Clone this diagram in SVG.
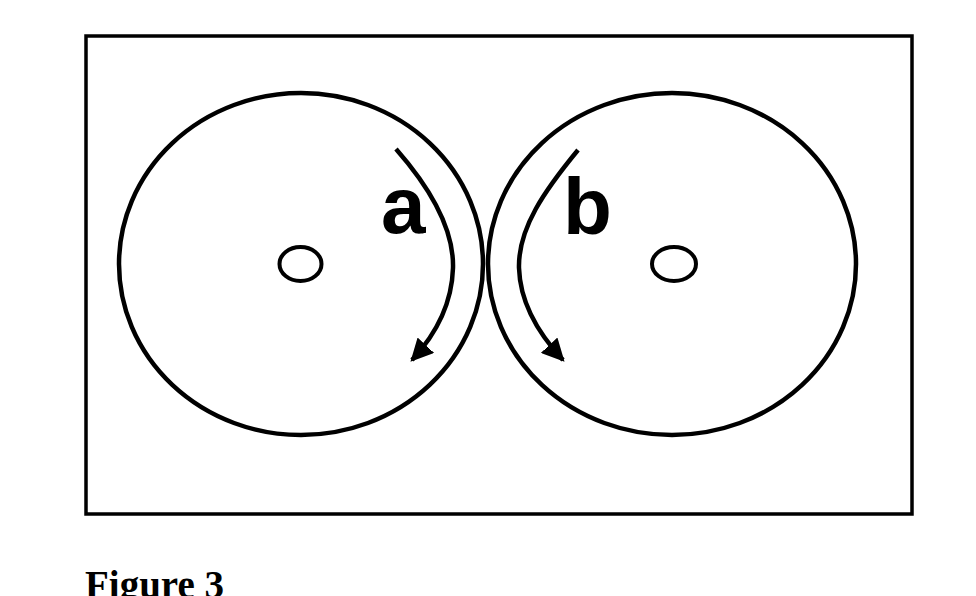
<svg xmlns="http://www.w3.org/2000/svg" width="976" height="596" viewBox="0 0 976 596">
  <style>
    .line { fill: none; stroke: #000; }
    .big { stroke-width: 4.5; }
    .arr { stroke-width: 4.5; }
    .hub { stroke-width: 4; }
    .label { font-family: "Liberation Sans", Arial, sans-serif; font-weight: bold; font-size: 80px; fill: #000; }
    .caption { font-family: "Liberation Serif", "Times New Roman", serif; font-weight: bold; font-size: 39px; fill: #000; }
  </style>
  <defs>
    <marker id="arrow" viewBox="0 0 10 10" refX="9" refY="5" markerWidth="5" markerHeight="5" markerUnits="strokeWidth" orient="auto">
      <path d="M0,0 L10,5 L0,10 Z" fill="#000"/>
    </marker>
  </defs>
  <rect width="976" height="596" fill="#fff"/>
  <rect x="86" y="36" width="826" height="478" class="line" stroke-width="3.5"/>

  <g id="wheel-a">
    <ellipse cx="301" cy="264" rx="182" ry="171" class="line big"/>
    <ellipse cx="300.5" cy="264" rx="21" ry="17" class="line hub"/>
  </g>
  <g id="wheel-b">
    <ellipse cx="672" cy="264" rx="184" ry="171" class="line big"/>
    <ellipse cx="674" cy="264" rx="22" ry="17" class="line hub"/>
  </g>

  <g id="connectors">
    <path d="M396,149 C432,190 454,230 453,268 C452,300 440,330 412,360" class="line arr" marker-end="url(#arrow)"/>
    <path d="M578,150 C545,190 518,228 519,268 C520,300 535,330 563,360" class="line arr" marker-end="url(#arrow)"/>
  </g>

  <g id="labels">
    <text x="381" y="233" class="label">a</text>
    <text x="563" y="234" class="label">b</text>
  </g>
  <text x="85" y="598" class="caption">Figure 3</text>
</svg>
